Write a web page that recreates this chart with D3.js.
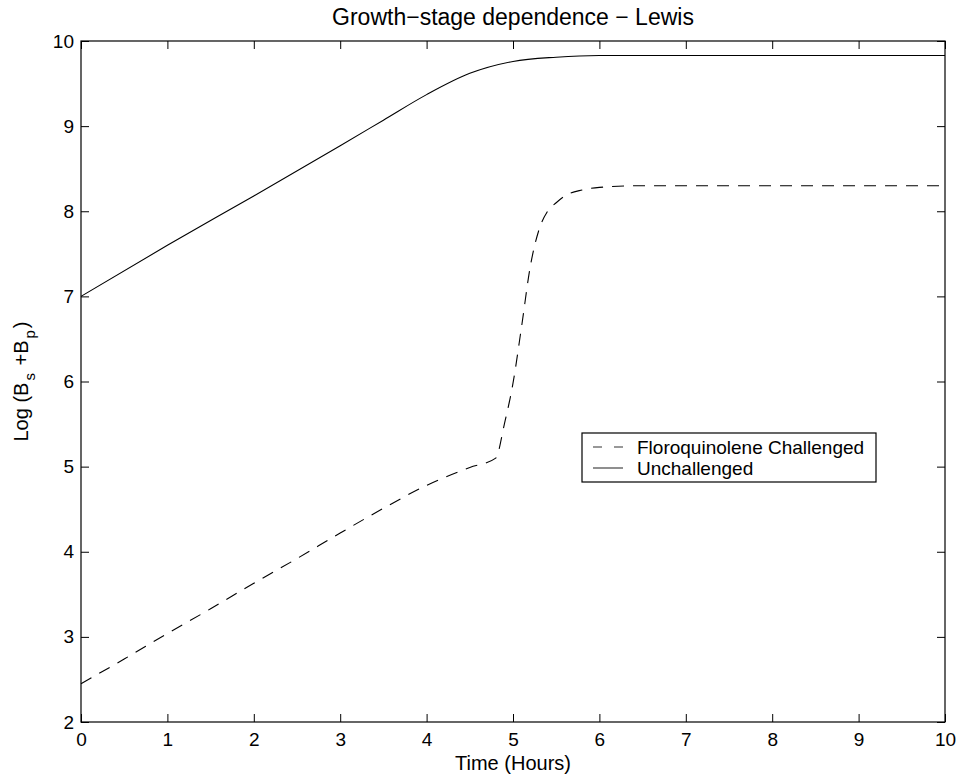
<!DOCTYPE html>
<html>
<head>
<meta charset="utf-8">
<script src="https://cdn.jsdelivr.net/npm/d3@7"></script>
<style>
  body { margin: 0; background: #fff; }
  text { font-family: "Liberation Sans", Arial, sans-serif; fill: #000; }
</style>
</head>
<body>
<div id="root"></div>
<script>
// values
const challengedT = [0, 0.5, 1, 1.5, 2, 2.5, 3, 3.5, 4, 4.2, 4.5, 4.8, 4.9, 5.0, 5.1, 5.2, 5.3, 5.4, 5.5, 5.6, 5.8, 6, 6.5, 8, 10];
const challengedY = [2.45, 2.74, 3.04, 3.33, 3.63, 3.92, 4.22, 4.51, 4.78, 4.87, 4.99, 5.10, 5.5, 5.98, 6.65, 7.35, 7.78, 8.0, 8.1, 8.18, 8.25, 8.28, 8.3, 8.3, 8.3];
const unchallengedT = [0, 1, 2, 3, 3.5, 4, 4.5, 5, 5.5, 6, 7, 10];
const unchallengedY = [7.0, 7.6, 8.18, 8.77, 9.07, 9.37, 9.62, 9.76, 9.81, 9.83, 9.83, 9.83];
const xTicks = [0, 1, 2, 3, 4, 5, 6, 7, 8, 9, 10];
const yTicks = [2, 3, 4, 5, 6, 7, 8, 9, 10];
const legendLabels = ['Floroquinolene Challenged', 'Unchallenged'];

const width = 958, height = 780;
const margin = { left: 81, right: 13, top: 41, bottom: 58 };

const svg = d3.select('#root').append('svg')
  .attr('width', width)
  .attr('height', height);

const x = d3.scaleLinear().domain([0, 10]).range([margin.left, width - margin.right]);
const y = d3.scaleLinear().domain([2, 10]).range([height - margin.bottom, margin.top]);

const tickLen = 8;

// box
svg.append('rect')
  .attr('x', x(0)).attr('y', y(10))
  .attr('width', x(10) - x(0)).attr('height', y(2) - y(10))
  .attr('fill', 'none').attr('stroke', '#000').attr('stroke-width', 1.2);

// axes with inward ticks
const xb = svg.append('g').attr('transform', `translate(0,${y(2)})`)
  .call(d3.axisBottom(x).tickValues(xTicks).tickSizeInner(-tickLen).tickSizeOuter(0).tickPadding(11));
const xt = svg.append('g').attr('transform', `translate(0,${y(10)})`)
  .call(d3.axisTop(x).tickValues(xTicks).tickSizeInner(-tickLen).tickSizeOuter(0).tickFormat(''));
const yl = svg.append('g').attr('transform', `translate(${x(0)},0)`)
  .call(d3.axisLeft(y).tickValues(yTicks).tickSizeInner(-tickLen).tickSizeOuter(0).tickPadding(7));
const yr = svg.append('g').attr('transform', `translate(${x(10)},0)`)
  .call(d3.axisRight(y).tickValues(yTicks).tickSizeInner(-tickLen).tickSizeOuter(0).tickFormat(''));

[xb, xt, yl, yr].forEach(g => {
  g.select('.domain').remove();
  g.selectAll('line').attr('stroke', '#000').attr('stroke-width', 1);
  g.selectAll('text').style('font-size', '19px').style('font-family', '"Liberation Sans", Arial, sans-serif');
});
xb.selectAll('text').attr('dy', '0.71em');

// lines
const line = d3.line().x(d => x(d[0])).y(d => y(d[1])).curve(d3.curveMonotoneX);
const unch = unchallengedT.map((t, i) => [t, unchallengedY[i]]);
const chal = challengedT.map((t, i) => [t, challengedY[i]]);

svg.append('path').datum(unch)
  .attr('d', line).attr('fill', 'none').attr('stroke', '#000').attr('stroke-width', 1.1);
svg.append('path').datum(chal)
  .attr('d', line).attr('fill', 'none').attr('stroke', '#000').attr('stroke-width', 1.1)
  .attr('stroke-dasharray', '12,9');

// title and labels
svg.append('text')
  .attr('x', (x(0) + x(10)) / 2).attr('y', 25)
  .attr('text-anchor', 'middle').style('font-size', '23px')
  .text('Growth\u2212stage dependence \u2212 Lewis');

svg.append('text')
  .attr('x', (x(0) + x(10)) / 2).attr('y', 770)
  .attr('text-anchor', 'middle').style('font-size', '20px')
  .text('Time (Hours)');

const ylab = svg.append('text')
  .attr('transform', `translate(28,${(y(2) + y(10)) / 2}) rotate(-90)`)
  .attr('text-anchor', 'middle').style('font-size', '20px');
ylab.append('tspan').text('Log (B');
ylab.append('tspan').attr('dy', 7).attr('dx', 2).style('font-size', '15px').text('s');
ylab.append('tspan').attr('dy', -7).attr('dx', 2).text(' +B');
ylab.append('tspan').attr('dy', 7).attr('dx', 2).style('font-size', '15px').text('p');
ylab.append('tspan').attr('dy', -7).attr('dx', 2).text(')');

// legend
const lg = svg.append('g').attr('transform', 'translate(582,433)');
lg.append('rect').attr('width', 294).attr('height', 49)
  .attr('fill', '#fff').attr('stroke', '#000').attr('stroke-width', 1.2);
legendLabels.forEach((lab, i) => {
  const cy = 14 + i * 21;
  lg.append('line')
    .attr('x1', 11).attr('x2', 41).attr('y1', cy).attr('y2', cy)
    .attr('stroke', '#333').attr('stroke-width', 1.1)
    .attr('stroke-dasharray', i === 0 ? '9,12' : null);
  lg.append('text').attr('x', 55).attr('y', cy).attr('dy', '0.35em')
    .style('font-size', '19px').text(lab);
});
</script>
</body>
</html>
